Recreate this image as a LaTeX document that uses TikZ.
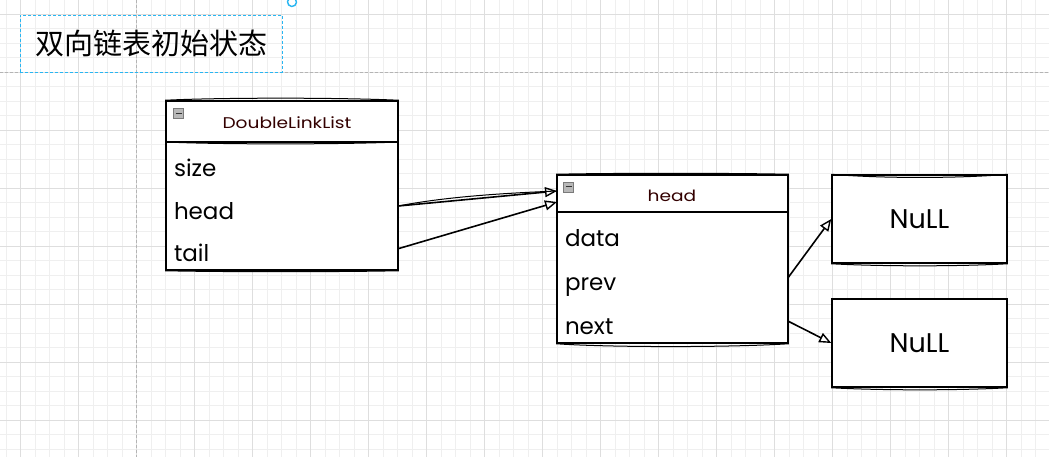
\documentclass[tikz,border=0pt]{standalone}
\usepackage{fontspec}
\newfontfamily\cjk{Noto Sans CJK SC}
\newfontfamily\hand{Poppins}
\newfontfamily\handwide{Poppins}[FakeStretch=1.2]
\usetikzlibrary{arrows.meta,calc}
\definecolor{gridminor}{HTML}{EFEFEF}
\definecolor{gridmajor}{HTML}{DEDEDE}
\definecolor{gridaxis}{HTML}{B4B4B4}
\definecolor{selblue}{HTML}{29B6F2}
\definecolor{iconfill}{HTML}{B8B8B8}
\definecolor{icondraw}{HTML}{7A7A7A}

\begin{document}
\begin{tikzpicture}[x=1pt,y=-1pt,
  boxshape/.style={draw=black, line width=1.5pt, fill=white, inner sep=0pt},
  sketchline/.style={draw=black, line width=1pt},
  rowtxt/.style={font=\hand\fontsize{23}{23}\selectfont, text width=216pt, inner xsep=8pt, inner ysep=0pt,
                 text height=26pt, text depth=0pt, minimum height=42pt, align=left},
  hdrtxt/.style={font=\handwide\fontsize{15.5}{15.5}\selectfont, text=black!80!red, inner sep=0pt, anchor=base},
  nulltxt/.style={font=\hand\fontsize{27}{27}\selectfont, inner sep=0pt, text height=19pt, text depth=0pt},
  link/.style={draw=black, line width=1.6pt, -{Triangle[open,length=12pt,width=10pt,line width=1.4pt]}},
  iconbox/.style={draw=icondraw, fill=iconfill, line width=0.6pt, minimum width=10pt, minimum height=10pt, inner sep=0pt}
]
\useasboundingbox (0,0) rectangle (1049,457);
\clip (0,0) rectangle (1049,457);
\fill[white] (0,0) rectangle (1049,457);

% background grid
\foreach \i in {0,...,72} \draw[gridminor, line width=0.8pt] ({6.2+14.5*\i},0) -- ({6.2+14.5*\i},457);
\foreach \j in {0,...,32} \draw[gridminor, line width=0.8pt] (0,{-0.2+14.5*\j}) -- (1049,{-0.2+14.5*\j});
\foreach \i in {0,...,18} \draw[gridmajor, line width=0.9pt] ({20.7+58*\i},0) -- ({20.7+58*\i},457);
\foreach \j in {0,...,7} \draw[gridmajor, line width=0.9pt] (0,{14.3+58*\j}) -- (1049,{14.3+58*\j});
\draw[gridaxis, line width=0.9pt, dash pattern=on 3pt off 2pt] (136.7,0) -- (136.7,457);
\draw[gridaxis, line width=0.9pt, dash pattern=on 3pt off 2pt] (0,72.3) -- (1049,72.3);

% title
\node[draw=selblue, line width=0.8pt, dash pattern=on 3pt off 2pt, minimum width=262pt, minimum height=57pt, inner sep=0pt,
      font=\cjk\fontsize{29}{29}\selectfont] (title) at (151,43.5) {双向链表初始状态};
\draw[selblue, line width=1.4pt] ($(292,2)+(-40:4.5)$) arc[start angle=-40, end angle=260, radius=4.5];

% DoubleLinkList structure
\node[boxshape, minimum width=232pt, minimum height=169pt] (dll) at (282,185.5) {};
\coordinate (dllsepw) at (166,142);
\coordinate (dllsepe) at (398,142);
\draw[line width=1.5pt] (dllsepw) -- (dllsepe);
\draw[sketchline] (dllsepw) .. controls (220,144.5) and (340,144.5) .. (dllsepe);
\draw[sketchline] (dll.north west) .. controls (220,97.5) and (340,97.5) .. (dll.north east);
\draw[sketchline] (dll.south west) .. controls (220,272) and (340,272) .. (dll.south east);
\node[iconbox] (dllicon) at (178.5,113.5) {};
\draw[black!80, line width=1pt] ($(dllicon.center)+(-3,0)$) -- ($(dllicon.center)+(3,0)$);
\node[hdrtxt] (dlltitle) at (287,128.3) {DoubleLinkList};
\node[rowtxt] (dllsize) at (282,163.3) {size};
\node[rowtxt] (dllhead) at (282,206) {head};
\node[rowtxt] (dlltail) at (282,248.7) {tail};

% head node
\node[boxshape, minimum width=231pt, minimum height=168pt] (hd) at (672.5,259) {};
\coordinate (hdsepw) at (557,212);
\coordinate (hdsepe) at (788,212);
\draw[line width=1.5pt] (hdsepw) -- (hdsepe);
\draw[sketchline] (hd.north west) .. controls (610,173) and (730,173) .. (hd.north east);
\draw[sketchline] (hd.south west) .. controls (610,347.5) and (730,347.5) .. (hd.south east);
\node[iconbox] (hdicon) at (568.5,187) {};
\draw[black!80, line width=1pt] ($(hdicon.center)+(-3,0)$) -- ($(hdicon.center)+(3,0)$);
\node[hdrtxt] (hdtitle) at (672,201.7) {head};
\node[rowtxt, text width=215pt] (hddata) at (672.5,233.8) {data};
\node[rowtxt, text width=215pt] (hdprev) at (672.5,277.5) {prev};
\node[rowtxt, text width=215pt] (hdnext) at (672.5,321.2) {next};

% NULL targets
\node[boxshape, minimum width=175pt, minimum height=88pt, nulltxt] (null1) at (919.5,219) {NuLL};
\draw[sketchline] (null1.north west) .. controls (880,178.5) and (960,178.5) .. (null1.north east);
\draw[sketchline] (null1.south west) .. controls (880,266.5) and (960,266.5) .. (null1.south east);
\node[boxshape, minimum width=175pt, minimum height=88pt, nulltxt] (null2) at (919.5,343) {NuLL};
\draw[sketchline] (null2.south west) .. controls (880,390.5) and (960,390.5) .. (null2.south east);

% links
\coordinate (hdin1) at (557,191);
\coordinate (hdin2) at (557,202);
\draw[sketchline] (dllhead.east) .. controls (450,196) and (510,193) .. (hdin1);
\draw[link] (dllhead.east) -- (hdin1);
\draw[link] (dlltail.east) -- (hdin2);
\draw[link] (hdprev.east) -- (null1.west);
\draw[link] (hdnext.east) -- (null2.west);
\end{tikzpicture}
\end{document}
